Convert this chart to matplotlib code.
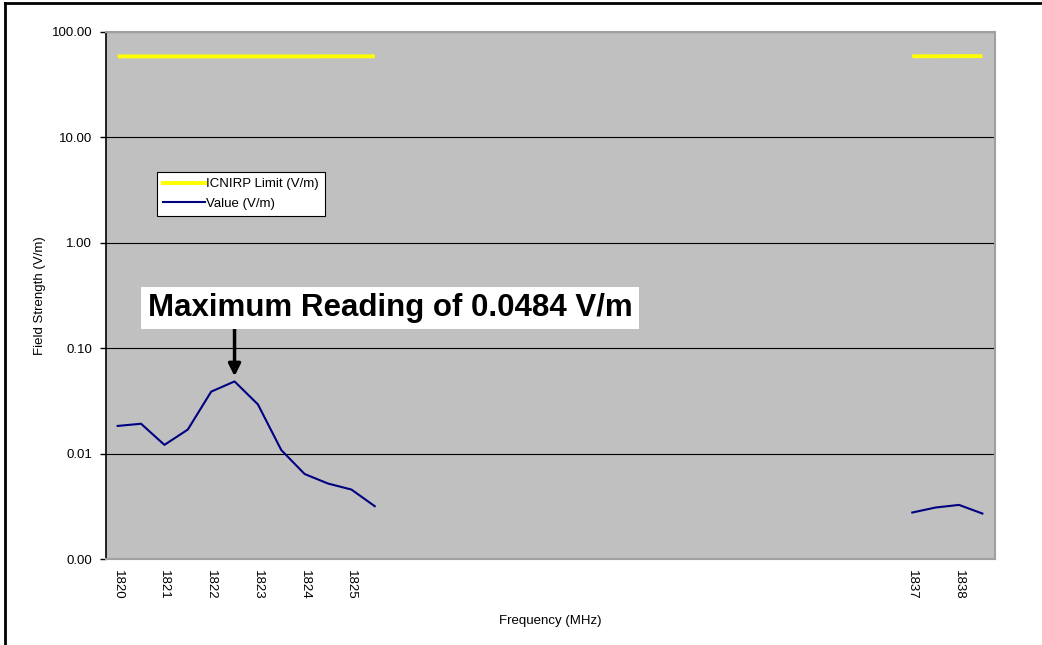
import numpy as np
import matplotlib
matplotlib.use('Agg')
import matplotlib.pyplot as plt
from matplotlib.lines import Line2D

plt.rcParams['font.family'] = ['Liberation Sans', 'DejaVu Sans']

# --- data ---
freq_low = [1820.0, 1820.5, 1821.0, 1821.5, 1822.0, 1822.5,
            1823.0, 1823.5, 1824.0, 1824.5, 1825.0, 1825.5]
value_low = [0.0183, 0.0192, 0.0121, 0.0169, 0.0387, 0.0484,
             0.0293, 0.0108, 0.0064, 0.0052, 0.00456, 0.00317]
limit_low = [58.7, 58.7, 58.7, 58.7, 58.7, 58.7,
             58.7, 58.7, 58.7, 58.8, 58.8, 58.8]

freq_high = [1837.0, 1837.5, 1838.0, 1838.5]
value_high = [0.00276, 0.00308, 0.00326, 0.0027]
limit_high = [58.9, 58.9, 59.0, 59.0]

tick_freqs = [1820, 1821, 1822, 1823, 1824, 1825, 1837, 1838]
y_ticks = [0.001, 0.01, 0.1, 1, 10, 100]
y_labels = ['0.00', '0.01', '0.10', '1.00', '10.00', '100.00']

max_text = 'Maximum Reading of 0.0484 V/m'
max_freq = 1822.5
max_value = 0.0484

fig = plt.figure(figsize=(10.42, 6.45), dpi=100)
ax = fig.add_axes([106 / 1042, 1 - 559 / 645, 889 / 1042, 527 / 645])
ax.set_facecolor('#c0c0c0')

# limit line (yellow) and measured values (navy), drawn as two segments
ax.plot(freq_low, limit_low, color='#ffff00', linewidth=2.8, solid_capstyle='butt')
ax.plot(freq_high, limit_high, color='#ffff00', linewidth=2.8, solid_capstyle='butt')
ax.plot(freq_low, value_low, color='#000080', linewidth=1.5)
ax.plot(freq_high, value_high, color='#000080', linewidth=1.5)

ax.set_yscale('log')
ax.set_ylim(0.001, 100)
ax.set_xlim(1819.75, 1838.77)
ax.set_yticks(y_ticks)
ax.set_yticklabels(y_labels, fontsize=9.5)
ax.yaxis.set_minor_locator(matplotlib.ticker.NullLocator())
ax.set_xticks(tick_freqs)
ax.set_xticklabels([str(t) for t in tick_freqs], rotation=-90, fontsize=9.5)
ax.tick_params(axis='x', length=0, pad=8)
ax.tick_params(axis='y', length=4, width=1, pad=6)

ax.grid(axis='y', color='black', linewidth=0.8)
ax.set_axisbelow(True)

for side in ['top', 'right', 'bottom']:
    ax.spines[side].set_color('#a0a0a0')
    ax.spines[side].set_linewidth(1.5)
ax.spines['left'].set_color('black')
ax.spines['left'].set_linewidth(1.2)

ax.set_ylabel('Field Strength (V/m)', fontsize=9.5, labelpad=4)
ax.set_xlabel('Frequency (MHz)', fontsize=9.5, labelpad=11)

# legend
handles = [Line2D([], [], color='#ffff00', linewidth=2.8),
           Line2D([], [], color='#000080', linewidth=1.5)]
leg = ax.legend(handles, ['ICNIRP Limit (V/m)', 'Value (V/m)'],
                loc='upper left', bbox_to_anchor=(51 / 889, 1 - 140 / 527),
                fontsize=9.5, frameon=True, fancybox=False, handlelength=3.2,
                handletextpad=0.1, borderpad=0.45, labelspacing=0.55,
                borderaxespad=0)
leg.get_frame().set_edgecolor('black')
leg.get_frame().set_linewidth(0.8)
leg.get_frame().set_facecolor('white')
leg.get_frame().set_alpha(1)

# annotation
ax.annotate('', xy=(max_freq, max_value * 1.12), xytext=(max_freq, 0.19),
            arrowprops=dict(arrowstyle='-|>', color='black', lw=2.5,
                            mutation_scale=18, shrinkA=0, shrinkB=0))
fig.text(390 / 1042, 1 - 308 / 645, max_text, fontsize=22.5, fontweight='bold',
         ha='center', va='center',
         bbox=dict(boxstyle='square,pad=0.2', facecolor='white', edgecolor='none'))

# outer border on left and top
fig.add_artist(Line2D([5 / 1042, 5 / 1042], [0, 1 - 3 / 645], color='black', linewidth=2,
                      transform=fig.transFigure))
fig.add_artist(Line2D([5 / 1042, 1], [1 - 3 / 645, 1 - 3 / 645], color='black', linewidth=2,
                      transform=fig.transFigure))

fig.savefig('out.png', dpi=100)
